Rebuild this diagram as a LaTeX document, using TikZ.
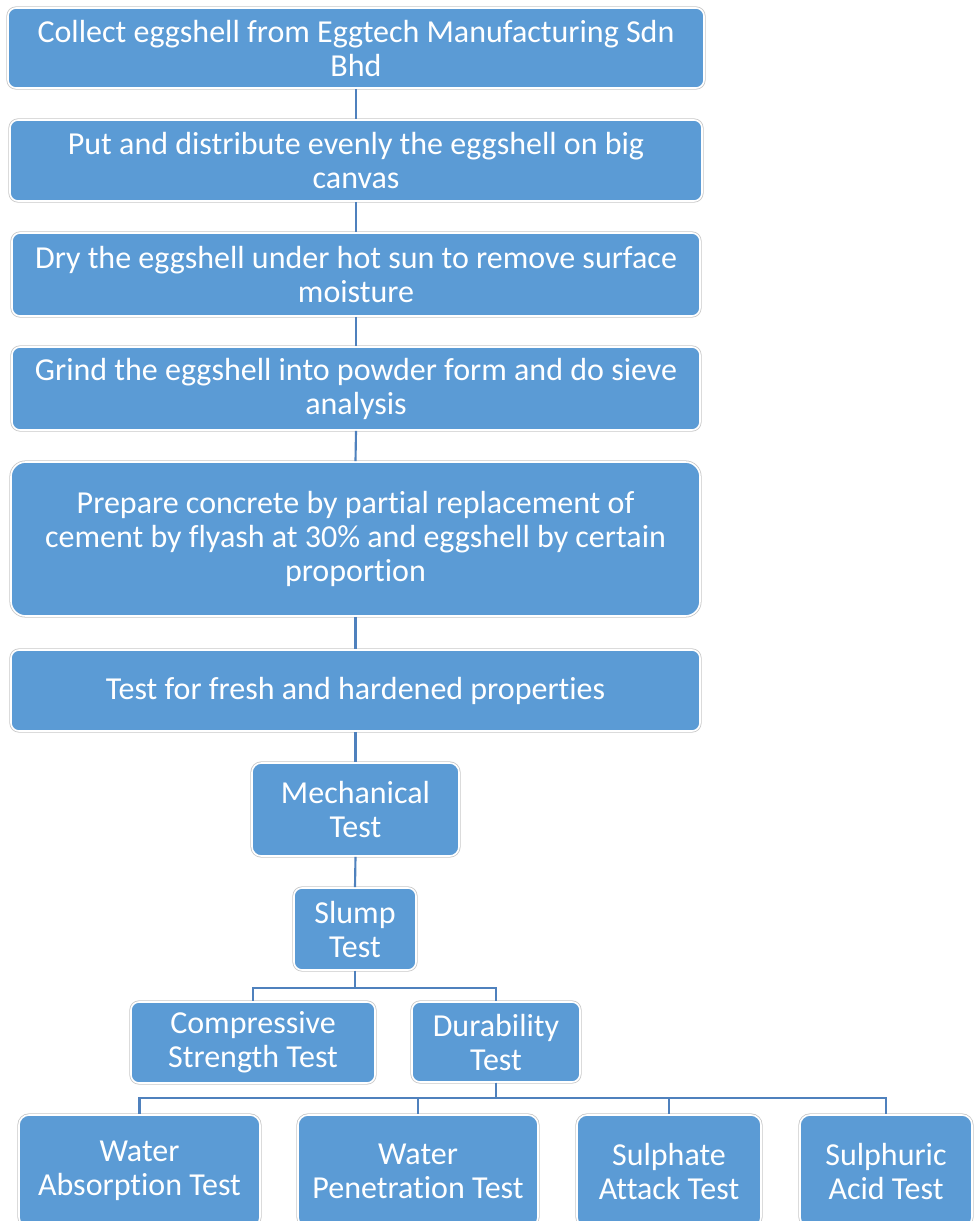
\documentclass[tikz,border=0pt]{standalone}
\usepackage{fontspec}
\setmainfont{Carlito}[Ligatures=NoCommon]
\definecolor{boxblue}{RGB}{91,155,213}
\definecolor{connblue}{RGB}{79,129,189}
\definecolor{edgegray}{RGB}{200,200,200}
\begin{document}
\begin{tikzpicture}[x=0.75pt,y=-0.75pt,
  box/.style={rectangle, rounded corners=6pt, fill=boxblue, draw=white, line width=1.2pt,
    preaction={draw=edgegray, line width=2.4pt},
    text=white, align=center, inner sep=0pt,
    font=\fontsize{24}{25.5}\selectfont},
  conn/.style={draw=connblue, line width=1.6pt}]
\clip (0,0) rectangle (975,1221);
\useasboundingbox (0,0) rectangle (975,1221);
\node[box, minimum width=522pt, minimum height=60pt] (b1) at (356,48)
  {Collect eggshell from Eggtech Manufacturing Sdn\\Bhd};
\node[box, minimum width=519pt, minimum height=60.75pt] (b2) at (356,160.5)
  {Put and distribute evenly the eggshell on big\\canvas};
\node[box, minimum width=516pt, minimum height=62.25pt] (b3) at (356,274.5)
  {Dry the eggshell under hot sun to remove surface\\moisture};
\node[box, minimum width=516pt, minimum height=62.25pt] (b4) at (356,388.5)
  {Grind the eggshell into powder form and do sieve\\analysis};
\node[box, rounded corners=11pt, minimum width=516.75pt, minimum height=115.5pt] (b5) at (355.5,539)
  {Prepare concrete by partial replacement of\\cement by flyash at 30\% and eggshell by certain\\proportion};
\node[box, minimum width=516.75pt, minimum height=60.75pt] (b6) at (355.5,690.5)
  {Test for fresh and hardened properties};
\node[box, rounded corners=7pt, minimum width=155.25pt, minimum height=69.75pt] (mech) at (355.5,809.5)
  {Mechanical\\Test};
\node[box, minimum width=91.5pt, minimum height=61.5pt] (slump) at (355,929)
  {Slump\\Test};
\node[box, minimum width=183pt, minimum height=60.75pt] (comp) at (253,1042.5)
  {Compressive\\Strength Test};
\node[box, minimum width=126pt, minimum height=60pt] (dur) at (496,1042)
  {Durability\\Test};
\node[box, rounded corners=7.5pt, minimum width=180.75pt, minimum height=84pt] (wa) at (139.5,1171)
  {Water\\Absorption Test};
\node[box, rounded corners=7.5pt, minimum width=180pt, minimum height=84pt] (wp) at (418,1171)
  {Water\\Penetration Test};
\node[box, rounded corners=7.5pt, minimum width=138pt, minimum height=84pt] (sa) at (669,1171)
  {Sulphate\\Attack Test};
\node[box, rounded corners=7.5pt, minimum width=129pt, minimum height=84pt] (sac) at (886,1171)
  {Sulphuric\\Acid Test};
\draw[conn] (b1.south) -- (b2.north);
\draw[conn] (b2.south) -- (b3.north);
\draw[conn] (b3.south) -- (b4.north);
\draw[conn] (b4.south) -- (b5.north);
\draw[conn] (b5.south) -- (b6.north);
\draw[conn] (b6.south) -- (mech.north);
\draw[conn] (mech.south) -- (slump.north);
\draw[conn] (slump.south) -- ++(0,17) -| (comp.north);
\draw[conn] (slump.south) -- ++(0,17) -| (dur.north);
\draw[conn] (dur.south) -- ++(0,15) -| (wa.north);
\draw[conn] (dur.south) -- ++(0,15) -| (wp.north);
\draw[conn] (dur.south) -- ++(0,15) -| (sa.north);
\draw[conn] (dur.south) -- ++(0,15) -| (sac.north);
\end{tikzpicture}
\end{document}
